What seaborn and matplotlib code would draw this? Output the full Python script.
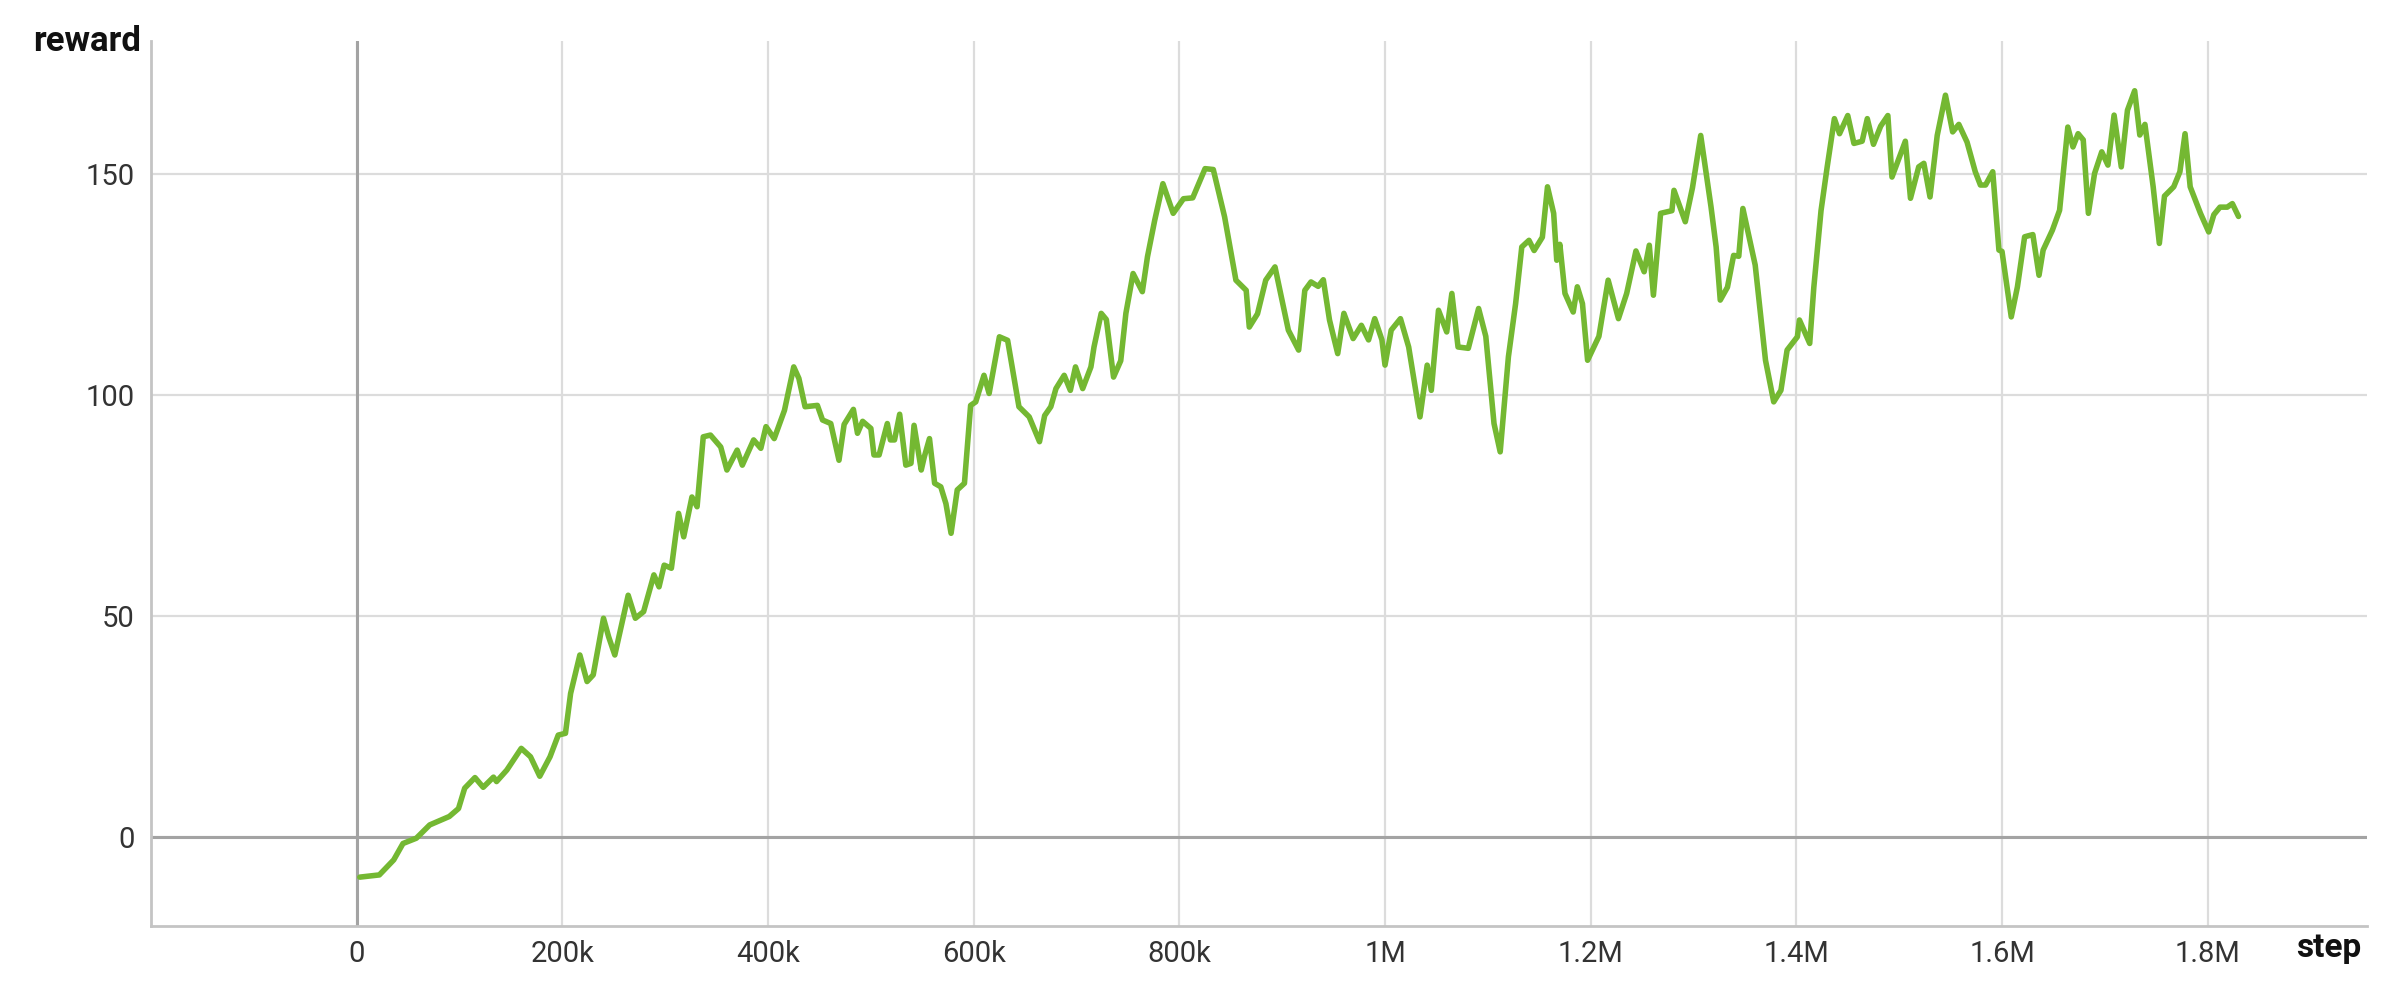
import matplotlib
matplotlib.use("Agg")
import matplotlib.pyplot as plt
import seaborn as sns
import pandas as pd
from matplotlib.ticker import FuncFormatter, FixedLocator

# values (step in thousands, smoothed reward)
step_k = [3, 22, 36, 45, 58, 71, 90, 99, 105, 115, 123, 133, 136, 146, 160, 169, 178, 188, 196, 203,
          208, 217, 224, 230, 240, 245, 251, 264, 271, 279, 289, 294, 299, 306, 313, 318, 326, 331, 337, 344,
          354, 360, 370, 375, 386, 393, 398, 406, 416, 425, 430, 436, 448, 453, 461, 469, 474, 483, 487, 492,
          500, 503, 508, 516, 519, 523, 528, 534, 539, 542, 549, 552, 557, 562, 568, 573, 578, 584, 591, 597,
          602, 610, 615, 625, 633, 644, 654, 664, 669, 675, 680, 688, 694, 699, 706, 714, 717, 724, 729, 736,
          743, 748, 755, 764, 769, 776, 784, 794, 804, 813, 825, 833, 844, 855, 865, 868, 876, 884, 893, 906,
          916, 922, 928, 935, 940, 946, 954, 960, 969, 977, 984, 990, 997, 1000, 1006, 1015, 1023, 1034, 1041, 1045,
          1052, 1060, 1065, 1071, 1081, 1091, 1098, 1106, 1112, 1120, 1127, 1133, 1140, 1145, 1153, 1158, 1164, 1167, 1170, 1175,
          1183, 1187, 1192, 1197, 1208, 1217, 1227, 1235, 1244, 1252, 1257, 1261, 1268, 1279, 1281, 1292, 1299, 1307, 1317, 1322,
          1326, 1333, 1339, 1344, 1348, 1360, 1370, 1378, 1385, 1391, 1401, 1403, 1413, 1417, 1424, 1430, 1437, 1442, 1450, 1456,
          1464, 1469, 1475, 1482, 1489, 1493, 1500, 1506, 1511, 1519, 1524, 1530, 1537, 1545, 1552, 1558, 1566, 1574, 1579, 1584,
          1591, 1597, 1600, 1609, 1615, 1622, 1630, 1636, 1640, 1649, 1656, 1664, 1669, 1674, 1679, 1684, 1690, 1697, 1703, 1709,
          1716, 1722, 1729, 1734, 1739, 1747, 1753, 1758, 1767, 1773, 1778, 1783, 1793, 1801, 1806, 1812, 1819, 1824, 1830]
reward = [-9.0, -8.5, -5.1, -1.4, -0.2, 2.8, 4.7, 6.5, 11.1, 13.5, 11.3, 13.6, 12.6, 15.2, 20.1, 18.2, 13.8, 18.2, 23.1, 23.5,
          32.5, 41.2, 35.2, 36.7, 49.5, 45.3, 41.2, 54.7, 49.5, 51.0, 59.3, 56.6, 61.5, 60.8, 73.2, 67.9, 76.9, 74.7, 90.5, 90.9,
          88.2, 83.0, 87.5, 84.1, 89.8, 87.9, 92.8, 90.1, 96.5, 106.3, 103.7, 97.3, 97.6, 94.3, 93.5, 85.2, 93.3, 96.7, 91.3, 94.0,
          92.4, 86.4, 86.4, 93.5, 89.8, 89.8, 95.6, 84.1, 84.5, 93.1, 83.0, 86.0, 90.1, 80.0, 79.2, 75.4, 68.7, 78.5, 80.0, 97.6,
          98.4, 104.4, 100.3, 113.1, 112.3, 97.3, 95.0, 89.4, 95.3, 97.3, 101.4, 104.4, 101.0, 106.3, 101.4, 106.3, 110.8, 118.4, 117.0, 104.0,
          107.7, 118.4, 127.4, 123.3, 131.2, 139.4, 147.7, 141.0, 144.3, 144.5, 151.1, 150.9, 140.2, 125.9, 123.6, 115.3, 118.3, 125.9, 128.9, 114.6,
          110.1, 123.6, 125.5, 124.5, 126.0, 116.9, 109.3, 118.4, 112.7, 115.7, 112.4, 117.2, 112.4, 106.7, 114.6, 117.2, 110.8, 95.0, 106.7, 101.0,
          119.1, 114.2, 122.9, 110.8, 110.5, 119.5, 113.2, 93.5, 87.1, 108.6, 120.6, 133.4, 134.9, 132.6, 135.6, 147.0, 141.0, 130.4, 134.0, 122.9,
          118.7, 124.4, 120.6, 107.8, 113.2, 125.9, 117.2, 122.9, 132.5, 127.8, 133.8, 122.5, 141.0, 141.6, 146.2, 139.1, 146.8, 158.6, 142.5, 133.4,
          121.4, 124.3, 131.5, 131.3, 142.1, 129.3, 107.8, 98.4, 101.0, 110.1, 113.1, 116.9, 111.6, 124.3, 141.6, 151.5, 162.4, 159.0, 163.1, 156.8,
          157.3, 162.4, 156.6, 160.7, 163.1, 149.2, 153.6, 157.3, 144.4, 151.5, 152.3, 144.7, 158.6, 167.7, 159.4, 161.1, 157.1, 150.4, 147.4, 147.4,
          150.4, 132.7, 132.4, 117.6, 124.4, 135.7, 136.2, 127.0, 132.7, 137.2, 141.7, 160.5, 156.0, 159.0, 157.6, 141.0, 150.0, 154.9, 151.9, 163.2,
          151.5, 164.3, 168.7, 158.7, 161.1, 147.0, 134.2, 144.9, 147.0, 150.4, 159.0, 147.0, 141.0, 136.8, 140.7, 142.4, 142.4, 143.2, 140.3]

x_ticks = [0, 200000, 400000, 600000, 800000, 1000000, 1200000, 1400000, 1600000, 1800000]
y_ticks = [0, 50, 100, 150]

df = pd.DataFrame({"step": [s * 1000 for s in step_k], "reward": reward})

sns.set_style("white")
plt.rcParams["font.family"] = ["Roboto", "DejaVu Sans"]

fig = plt.figure(figsize=(23.9, 9.94), dpi=100)
ax = fig.add_axes([0.0632, 0.0686, 0.9272, 0.8904])

sns.lineplot(data=df, x="step", y="reward", ax=ax, color="#74b832", linewidth=4.0, zorder=5)

ax.set_xlim(-200000, 1955000)
ax.set_ylim(-20, 180)
ax.xaxis.set_major_locator(FixedLocator(x_ticks))
ax.yaxis.set_major_locator(FixedLocator(y_ticks))


def fmt_step(v, pos):
    if v == 0:
        return "0"
    if abs(v) < 1e6:
        return f"{v / 1000:g}k"
    return f"{v / 1e6:g}M"


ax.xaxis.set_major_formatter(FuncFormatter(fmt_step))
ax.grid(True, color="#dcdcdc", linewidth=1.6)
ax.axhline(0, color="#a3a3a3", linewidth=2.2, zorder=2)
ax.axvline(0, color="#a3a3a3", linewidth=2.2, zorder=2)

for side in ["top", "right"]:
    ax.spines[side].set_visible(False)
for side in ["left", "bottom"]:
    ax.spines[side].set_color("#c4c4c4")
    ax.spines[side].set_linewidth(2)

ax.tick_params(axis="both", length=0, labelsize=21, labelcolor="#333333")
ax.tick_params(axis="x", pad=10)
ax.tick_params(axis="y", pad=12)
ax.set_xlabel("")
ax.set_ylabel("")

fig.text(0.059, 0.958, "reward", fontsize=25, fontweight="bold", ha="right", va="center", color="#111111")
fig.text(0.9745, 0.046, "step", fontsize=24, fontweight="bold", ha="center", va="center", color="#111111")

fig.savefig("out.png", dpi=100)
